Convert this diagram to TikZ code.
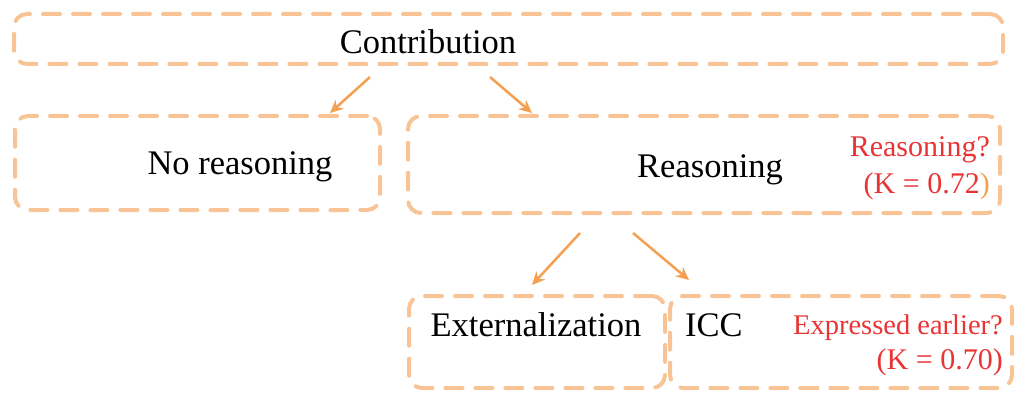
\documentclass[tikz,border=0pt]{standalone}
\usepackage{fontspec}
\setmainfont{Liberation Serif}
\definecolor{boxc}{RGB}{248,196,150}
\definecolor{arrc}{RGB}{245,160,80}
\definecolor{redt}{RGB}{232,52,52}
\usetikzlibrary{arrows.meta}
\begin{document}
\begin{tikzpicture}[x=1pt,y=-1pt,
  dbox/.style={draw=boxc,line width=4pt,rounded corners=13pt,dash pattern=on 17pt off 13pt,line cap=round,inner sep=0pt,minimum width=#1},
  lbl/.style={font=\fontsize{34.5}{40}\selectfont,inner sep=0pt},
  rlbl/.style={font=\fontsize{30}{34}\selectfont,text=redt,inner sep=0pt,anchor=east},
  arr/.style={draw=arrc,line width=2.5pt,-{Stealth[length=13pt,width=12pt]}}]
\useasboundingbox (0,0) rectangle (1018,393);
\node[dbox=989pt,minimum height=50pt] (top) at (508.5,39) {};
\node[dbox=365pt,minimum height=94pt] (nor) at (197.5,163) {};
\node[dbox=592pt,minimum height=97pt] (rea) at (704,164.5) {};
\node[dbox=256pt,minimum height=92pt] (ext) at (537,342) {};
\node[dbox=342pt,minimum height=92pt] (icc) at (841,342) {};
\node[lbl] (tcon) at (428,42) {Contribution};
\node[lbl] (tnor) at (240,167) {No reasoning};
\node[lbl] (trea) at (710,170) {Reasoning};
\node[rlbl] (q1) at (990,150) {Reasoning?};
\node[rlbl] (k1) at (990,186) {(K = 0.72\textcolor{arrc}{)}};
\node[lbl] (text) at (536,325) {Externalization};
\node[lbl,anchor=west] (ticc) at (685,325) {ICC};
\node[rlbl,font=\fontsize{28.5}{32}\selectfont] (q2) at (1003,328) {Expressed earlier?};
\node[rlbl] (k2) at (1003,362) {(K = 0.70)};
\coordinate (a1s) at (370,77); \coordinate (a1e) at (330,113);
\coordinate (a2s) at (490,77); \coordinate (a2e) at (532,113);
\coordinate (a3s) at (580,233); \coordinate (a3e) at (532,285);
\coordinate (a4s) at (633,233); \coordinate (a4e) at (689,280);
\draw[arr] (a1s) -- (a1e);
\draw[arr] (a2s) -- (a2e);
\draw[arr] (a3s) -- (a3e);
\draw[arr] (a4s) -- (a4e);
\end{tikzpicture}
\end{document}
